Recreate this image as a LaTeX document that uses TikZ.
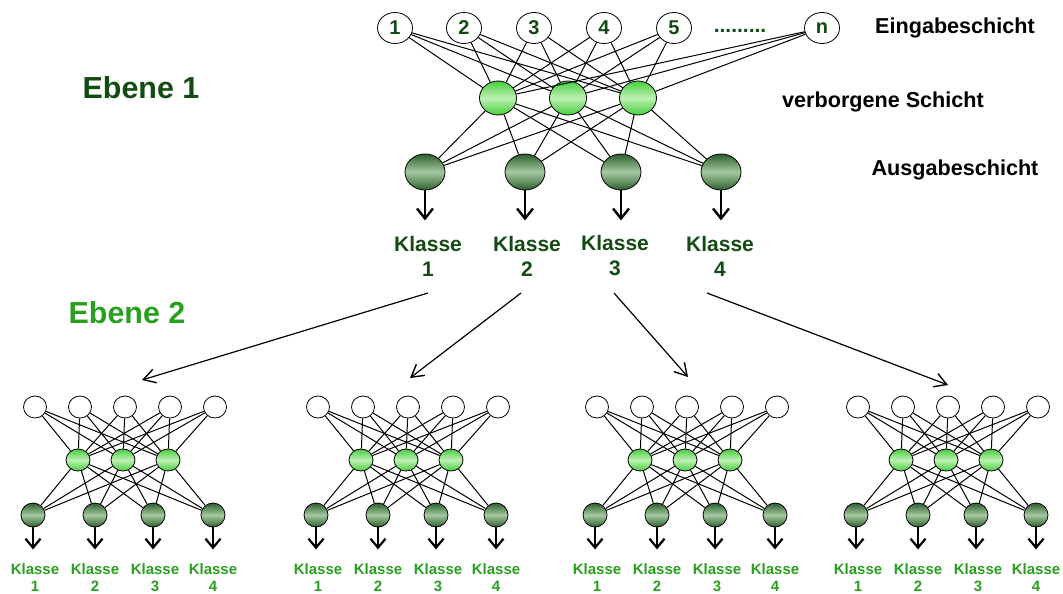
\documentclass[tikz,border=0pt]{standalone}
\usepackage{fontspec}
\setmainfont{Liberation Sans}
\usetikzlibrary{arrows.meta,shapes.geometric,positioning}
\definecolor{dkgreen}{RGB}{20,75,20}
\definecolor{ltgreen}{RGB}{40,160,30}
\definecolor{hidedge}{RGB}{70,205,60}
\definecolor{hidmid}{RGB}{190,242,180}
\definecolor{outedge}{RGB}{45,95,45}
\definecolor{outmid}{RGB}{165,200,160}
\tikzset{
  inp/.style={ellipse,draw,fill=white,inner sep=0pt,minimum width=17.5pt,minimum height=15.5pt,
    text=dkgreen,font=\fontsize{10}{12}\selectfont\bfseries},
  hid/.style={ellipse,draw,inner sep=0pt,minimum width=18.5pt,minimum height=17pt,
    top color=hidedge,bottom color=hidedge,middle color=hidmid},
  outn/.style={ellipse,draw,inner sep=0pt,minimum width=20pt,minimum height=18pt,
    top color=outedge,bottom color=outedge,middle color=outmid},
  sinp/.style={inp,minimum width=11.5pt,minimum height=11pt},
  shid/.style={hid,minimum width=12pt,minimum height=11pt},
  sout/.style={outn,minimum width=12pt,minimum height=12pt},
  link/.style={line width=0.5pt},
  result/.style={line width=1.2pt,-{Straight Barb[length=5pt,width=8pt,line width=1.2pt]}},
  sresult/.style={line width=1.1pt,-{Straight Barb[length=4.5pt,width=7.5pt,line width=1.1pt]}},
  level/.style={line width=0.6pt,-{Straight Barb[length=6pt,width=7pt,line width=0.7pt]}},
  layername/.style={font=\fontsize{10.8}{13}\selectfont\bfseries},
  klasse/.style={align=center,text=dkgreen,font=\fontsize{10.5}{12.5}\selectfont\bfseries},
  sklasse/.style={align=center,text=ltgreen,font=\fontsize{7.5}{8.5}\selectfont\bfseries}
}
\begin{document}
\begin{tikzpicture}[x=0.5pt,y=-0.5pt]
  \useasboundingbox (0,0) rectangle (1063,593);
  % Ebene 1
  \node[text=dkgreen,font=\fontsize{15.2}{18}\selectfont\bfseries] (eb1) at (141,88) {Ebene 1};
  \foreach \i/\x in {1/395,2/464,3/534,4/604,5/674,n/822}
    \node[inp] (in\i) at (\x,28) {\i};
  \node[text=dkgreen,font=\fontsize{10.5}{12}\selectfont\bfseries] (dots) at (740,31) {.........};
  \foreach \j/\x in {1/498,2/568,3/638}
    \node[hid] (h\j) at (\x,98) {};
  \foreach \k/\x in {1/425,2/525,3/621,4/721}
    \node[outn] (o\k) at (\x,172) {};
  \foreach \i in {1,2,3,4,5,n}
    \foreach \j in {1,2,3}
      \draw[link] (in\i) -- (h\j);
  \foreach \j in {1,2,3}
    \foreach \k in {1,2,3,4}
      \draw[link] (h\j) -- (o\k);
  \foreach \k in {1,2,3,4}
    \draw[result] (o\k.south) -- ++(0,30);
  \foreach \k/\x in {1/428,2/527,3/615,4/720}
    \node[klasse] (k\k) at (\x,256) {Klasse\\\k};
  % Schichten
  \node[layername] (eing) at (955,28) {Eingabeschicht};
  \node[layername] (verb) at (883,102) {verborgene Schicht};
  \node[layername] (ausg) at (955,170) {Ausgabeschicht};

  % Ebene 2
  \node[text=ltgreen,font=\fontsize{15.2}{18}\selectfont\bfseries] (eb2) at (127,313) {Ebene 2};
  \coordinate (from1) at (428,293); \coordinate (to1) at (142,380);
  \coordinate (from2) at (521,293); \coordinate (to2) at (410,378);
  \coordinate (from3) at (614,293); \coordinate (to3) at (688,377);
  \coordinate (from4) at (707,293); \coordinate (to4) at (948,385);
  \foreach \k in {1,2,3,4}
    \draw[level] (from\k) -- (to\k);
  \foreach \s/\dx in {a/0,b/283,c/562,d/823} {
    \foreach \i/\x in {1/35,2/80,3/125,4/170,5/215}
      \node[sinp] (\s-i\i) at (\dx+\x,407) {};
    \foreach \j/\x in {1/78,2/123,3/168}
      \node[shid] (\s-h\j) at (\dx+\x,460) {};
    \foreach \k/\x in {1/33,2/95,3/153,4/213}
      \node[sout] (\s-o\k) at (\dx+\x,515) {};
    \foreach \i in {1,...,5}
      \foreach \j in {1,2,3}
        \draw[link] (\s-i\i) -- (\s-h\j);
    \foreach \j in {1,2,3}
      \foreach \k in {1,2,3,4}
        \draw[link] (\s-h\j) -- (\s-o\k);
    \foreach \k/\x in {1/35,2/95,3/155,4/213} {
      \draw[sresult] (\s-o\k.south) -- ++(0,22);
      \node[sklasse] (\s-k\k) at (\dx+\x,578) {Klasse\\\k};
    }
  }
\end{tikzpicture}
\end{document}
